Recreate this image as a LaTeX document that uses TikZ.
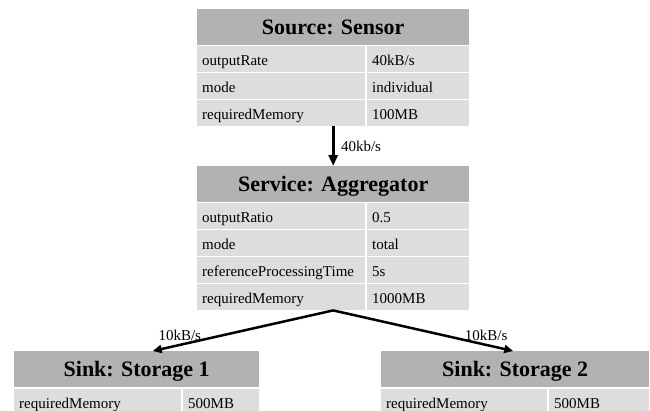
\documentclass[tikz,border=0pt]{standalone}
\usepackage{fontspec}
\setmainfont{Liberation Serif}
\usepackage{tikz}
\usetikzlibrary{arrows.meta, positioning}
\definecolor{headgray}{RGB}{178,178,178}
\definecolor{rowgray}{RGB}{221,221,221}

\begin{document}
\begin{tikzpicture}[
    x=1pt, y=-1pt,
    head/.style={rectangle, fill=headgray, anchor=north west, inner sep=0pt, minimum height=36pt, text height=17pt, text depth=3pt, font=\fontsize{22}{26}\selectfont\bfseries},
    cell/.style={rectangle, fill=rowgray, anchor=north west, inner xsep=5pt, inner ysep=0pt, minimum height=26pt, align=left, text width=#1, text height=14pt, text depth=2pt, font=\fontsize{15}{18}\selectfont},
    flow/.style={line width=3pt, -{Stealth[length=11pt, width=9pt, inset=0pt]}},
    split/.style={line width=2.5pt, -{Stealth[length=9pt, width=8pt, inset=0pt]}},
    rate/.style={font=\fontsize{15}{18}\selectfont},
]
    \clip (0,0) rectangle (650,410);

    % Source
    \node[head, minimum width=272pt] (srcH) at (197,9) {Source: Sensor};
    \foreach \i/\k/\v in {1/outputRate/{40kB/s}, 2/mode/individual, 3/requiredMemory/100MB} {
        \node[cell=158pt] (src\i) at (197, {19+27*\i}) {\k};
        \node[cell=92pt] (src\i v) at (367, {19+27*\i}) {\v};
    }

    % Service
    \node[head, minimum width=272pt] (svcH) at (197,166) {Service: Aggregator};
    \foreach \i/\k/\v in {1/outputRatio/0.5, 2/mode/total, 3/referenceProcessingTime/5s, 4/requiredMemory/1000MB} {
        \node[cell=158pt] (svc\i) at (197, {176+27*\i}) {\k};
        \node[cell=92pt] (svc\i v) at (367, {176+27*\i}) {\v};
    }

    % Sinks
    \node[head, minimum width=245pt] (sk1H) at (14,351) {Sink: Storage 1};
    \node[cell=157pt] (sk1) at (14,389) {requiredMemory};
    \node[cell=66pt] (sk1v) at (183,389) {500MB};

    \node[head, minimum width=268pt] (sk2H) at (381,351) {Sink: Storage 2};
    \node[cell=156pt] (sk2) at (381,389) {requiredMemory};
    \node[cell=90pt] (sk2v) at (549,389) {500MB};

    % Data flow
    \draw[flow] (srcH |- src3.south) -- (svcH.north)
        node[midway, right, xshift=3pt, rate] {40kb/s};

    \coordinate (fork) at (svcH |- svc4.south);
    \draw[split] (fork) -- ([xshift=16pt]sk1H.north)
        node[pos=0.85, above, rate] {10kB/s};
    \draw[split] (fork) -- ([xshift=-2pt]sk2H.north)
        node[pos=0.85, above, rate] {10kB/s};
\end{tikzpicture}
\end{document}
